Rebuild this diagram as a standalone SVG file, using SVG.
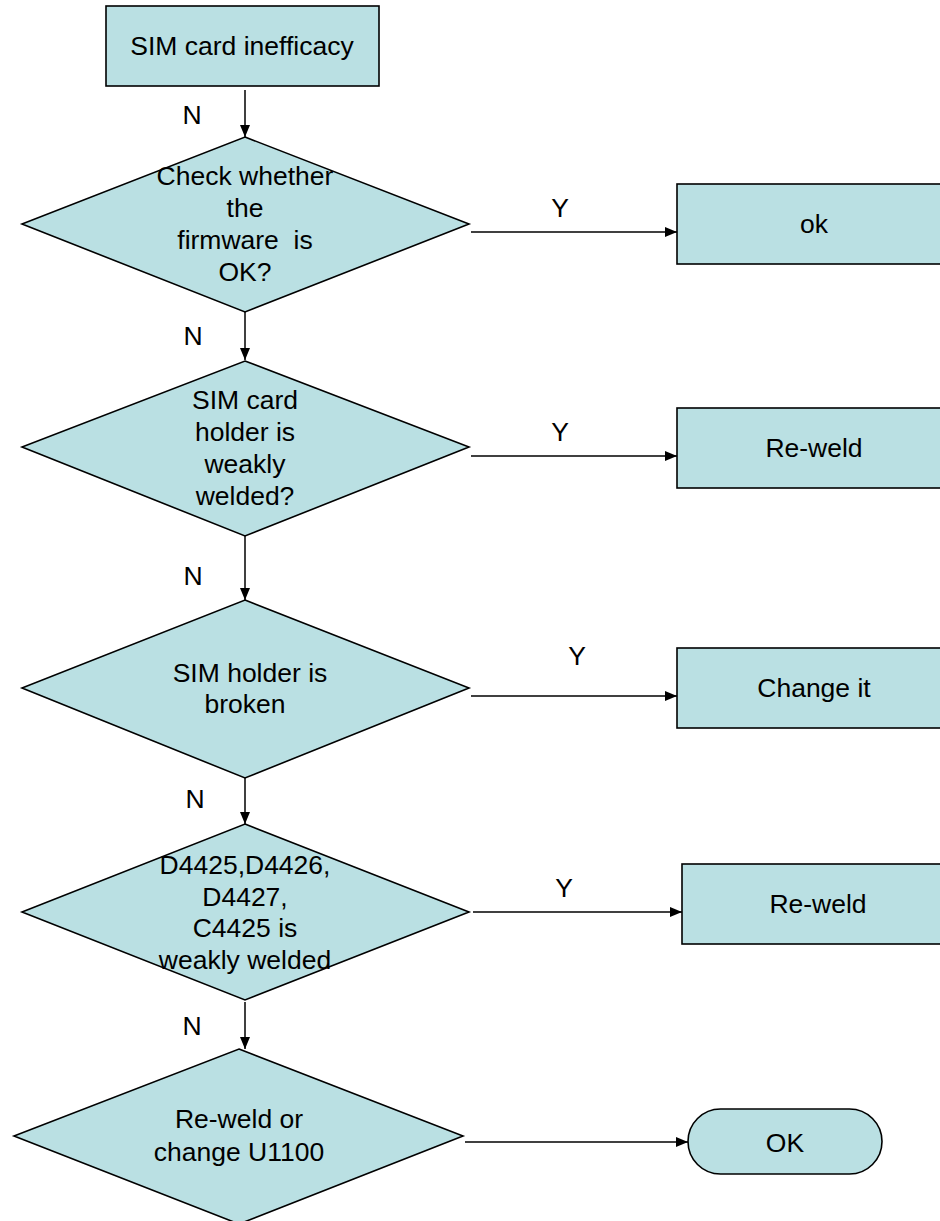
<svg xmlns="http://www.w3.org/2000/svg" width="940" height="1221" viewBox="0 0 940 1221">
<style>
.s{fill:#BAE0E3;stroke:#000;stroke-width:1.6}
.t{font-family:"Liberation Sans",Arial,sans-serif;font-size:26.5px;fill:#000;text-anchor:middle}
.c{stroke:#000;stroke-width:1.5;fill:none;marker-end:url(#a)}
</style>
<defs>
<marker id="a" markerUnits="userSpaceOnUse" markerWidth="13" markerHeight="10" refX="12" refY="5" orient="auto">
<path d="M0,0 L12,5 L0,10 Z" fill="#000"/>
</marker>
</defs>
<rect width="940" height="1221" fill="#fff"/>
<g id="connectors">
<line class="c" x1="245" y1="90" x2="245" y2="137"/>
<line class="c" x1="245" y1="312" x2="245" y2="360"/>
<line class="c" x1="245" y1="536" x2="245" y2="600"/>
<line class="c" x1="245" y1="778" x2="245" y2="824"/>
<line class="c" x1="245" y1="1002" x2="245" y2="1049"/>
<line class="c" x1="471" y1="232" x2="677" y2="232"/>
<line class="c" x1="471" y1="456" x2="677" y2="456"/>
<line class="c" x1="471" y1="696" x2="677" y2="696"/>
<line class="c" x1="473" y1="912" x2="682" y2="912"/>
<line class="c" x1="465" y1="1142" x2="688" y2="1142"/>
<text class="t" x="192" y="124">N</text>
<text class="t" x="193" y="345">N</text>
<text class="t" x="193" y="585">N</text>
<text class="t" x="195" y="808">N</text>
<text class="t" x="192" y="1035">N</text>
<text class="t" x="560" y="217">Y</text>
<text class="t" x="560" y="441">Y</text>
<text class="t" x="577" y="665">Y</text>
<text class="t" x="564" y="897">Y</text>
</g>
<g id="start">
<rect class="s" x="106" y="6" width="273" height="80"/>
<text class="t" x="242" y="55">SIM card inefficacy</text>
</g>
<g id="d1">
<polygon class="s" points="245,137 469,224 245,312 22,224"/>
<text class="t" x="245" y="185">Check whether</text>
<text class="t" x="245" y="217">the</text>
<text class="t" x="245" y="249">firmware&#160; is</text>
<text class="t" x="245" y="281">OK?</text>
</g>
<g id="ok1">
<rect class="s" x="677" y="184" width="274" height="80"/>
<text class="t" x="814" y="233">ok</text>
</g>
<g id="d2">
<polygon class="s" points="245,361 469,447 245,536 22,447"/>
<text class="t" x="245" y="409">SIM card</text>
<text class="t" x="245" y="441">holder is</text>
<text class="t" x="245" y="473">weakly</text>
<text class="t" x="245" y="505">welded?</text>
</g>
<g id="reweld1">
<rect class="s" x="677" y="408" width="274" height="80"/>
<text class="t" x="814" y="457">Re-weld</text>
</g>
<g id="d3">
<polygon class="s" points="245,600 469,688 245,778 22,688"/>
<text class="t" x="250" y="682">SIM holder is</text>
<text class="t" x="245" y="713">broken</text>
</g>
<g id="change">
<rect class="s" x="677" y="648" width="274" height="80"/>
<text class="t" x="814" y="697">Change it</text>
</g>
<g id="d4">
<polygon class="s" points="245,824 469,912 245,1000 22,912"/>
<text class="t" x="245" y="874">D4425,D4426,</text>
<text class="t" x="245" y="906">D4427,</text>
<text class="t" x="245" y="937">C4425 is</text>
<text class="t" x="245" y="969">weakly welded</text>
</g>
<g id="reweld2">
<rect class="s" x="682" y="864" width="274" height="80"/>
<text class="t" x="818" y="913">Re-weld</text>
</g>
<g id="d5">
<polygon class="s" points="239,1049 463,1136 239,1224 14,1136"/>
<text class="t" x="239" y="1128">Re-weld or</text>
<text class="t" x="239" y="1161">change U1100</text>
</g>
<g id="end">
<rect class="s" x="688" y="1109" width="194" height="65" rx="32.5" ry="32.5"/>
<text class="t" x="785" y="1152">OK</text>
</g>
</svg>
